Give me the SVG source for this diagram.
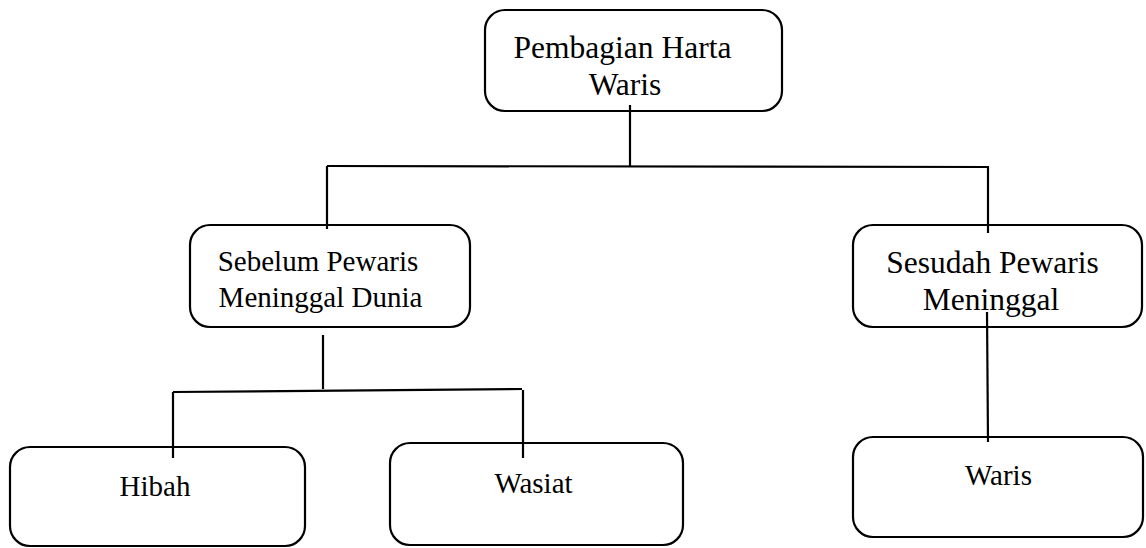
<svg xmlns="http://www.w3.org/2000/svg" width="1146" height="548" viewBox="0 0 1146 548">
<style>
.box{fill:none;stroke:#000;stroke-width:2.2}
.t{font-family:"Liberation Serif",serif;fill:#000;text-anchor:middle}
.s{font-size:29px}
.l{font-size:31.5px}
.c{stroke:#000;stroke-width:2.2;fill:none}
</style>
<rect width="1146" height="548" fill="#fff"/>
<g id="node-root">
<rect class="box" x="485" y="10" width="297" height="101" rx="20"/>
<text class="t l" x="622.5" y="58">Pembagian Harta</text>
<text class="t l" x="625" y="95">Waris</text>
</g>
<g id="node-sebelum">
<rect class="box" x="190" y="225" width="280" height="102" rx="20"/>
<text class="t s" x="318" y="271">Sebelum Pewaris</text>
<text class="t s" x="320.5" y="307">Meninggal Dunia</text>
</g>
<g id="node-sesudah">
<rect class="box" x="853" y="225" width="289" height="102" rx="20"/>
<text class="t l" x="992.5" y="273">Sesudah Pewaris</text>
<text class="t l" x="991" y="310">Meninggal</text>
</g>
<g id="node-hibah">
<rect class="box" x="10" y="447" width="295" height="99" rx="20"/>
<text class="t s" x="155" y="496">Hibah</text>
</g>
<g id="node-wasiat">
<rect class="box" x="390" y="443" width="293" height="102" rx="20"/>
<text class="t s" x="533.5" y="493">Wasiat</text>
</g>
<g id="node-waris">
<rect class="box" x="853" y="437" width="290" height="100" rx="20"/>
<text class="t s" x="998.5" y="485">Waris</text>
</g>
<g id="connectors">
<line class="c" x1="630" y1="105" x2="630" y2="167"/>
<line class="c" x1="327" y1="166" x2="989" y2="167"/>
<line class="c" x1="327" y1="166" x2="327" y2="229"/>
<line class="c" x1="988" y1="167" x2="988" y2="233"/>
<line class="c" x1="323" y1="335" x2="323" y2="389"/>
<line class="c" x1="173" y1="392" x2="522" y2="389"/>
<line class="c" x1="173" y1="392" x2="173" y2="458"/>
<line class="c" x1="523" y1="390" x2="523" y2="458"/>
<line class="c" x1="987" y1="312" x2="988" y2="442"/>
</g>
</svg>
